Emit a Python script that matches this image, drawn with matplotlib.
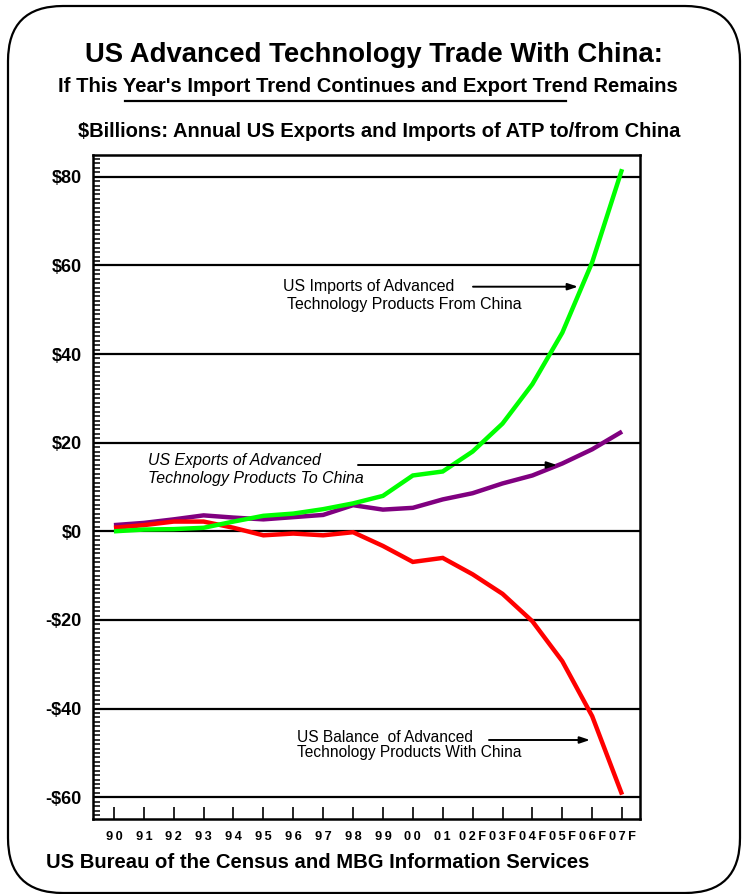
import matplotlib
matplotlib.use("Agg")
import matplotlib.pyplot as plt
from matplotlib.patches import FancyBboxPatch
from matplotlib.lines import Line2D
from matplotlib.text import Annotation
from matplotlib.ticker import FixedLocator, MultipleLocator

plt.rcParams["font.family"] = ["Liberation Sans", "DejaVu Sans"]

# values ($ billions)
years = ["90", "91", "92", "93", "94", "95", "96", "97", "98", "99", "00", "01",
         "02F", "03F", "04F", "05F", "06F", "07F"]
imports = [0.0, 0.4, 0.5, 0.8, 2.2, 3.5, 4.0, 5.0, 6.3, 8.0, 12.6, 13.5,
           18.0, 24.3, 33.2, 44.8, 60.7, 81.7]
exports = [1.4, 1.9, 2.7, 3.6, 3.1, 2.7, 3.2, 3.7, 5.9, 4.9, 5.3, 7.2,
           8.6, 10.8, 12.6, 15.3, 18.5, 22.5]
balance = [0.8, 1.4, 2.2, 2.2, 0.8, -0.9, -0.5, -0.9, -0.2, -3.3, -6.9, -6.0,
           -9.7, -14.1, -20.3, -29.3, -41.7, -59.4]
yticks = [-60, -40, -20, 0, 20, 40, 60, 80]
ytick_labels = ["-$60", "-$40", "-$20", "$0", "$20", "$40", "$60", "$80"]

W, H = 742, 894
fig = plt.figure(figsize=(W / 100, H / 100), dpi=100)


def fx(x):
    return x / W


def fy(y):
    return 1 - y / H


# outer rounded frame
frame = FancyBboxPatch((0.08, 0.01), 7.32, 8.87,
                       boxstyle="round,pad=0,rounding_size=0.55",
                       transform=fig.dpi_scale_trans, facecolor="white",
                       edgecolor="black", linewidth=1.6, zorder=0)
fig.add_artist(frame)

ax = fig.add_axes([fx(93), fy(819), fx(640) - fx(93), fy(155) - fy(819)])
ax.set_facecolor("none")
x = list(range(len(years)))

for y in yticks:
    ax.axhline(y, color="black", linewidth=1.6, zorder=1)

ax.plot(x, exports, color="#800080", linewidth=3.2, solid_capstyle="butt",
        solid_joinstyle="miter", zorder=3)
ax.plot(x, balance, color="#ff0000", linewidth=3.2, solid_capstyle="butt",
        solid_joinstyle="miter", zorder=4)
ax.plot(x, imports, color="#00ff00", linewidth=3.2, solid_capstyle="butt",
        solid_joinstyle="miter", zorder=5)

ax.set_xlim(-0.7, 17.6)
ax.set_ylim(-64.9, 84.9)

for s in ax.spines.values():
    s.set_linewidth(1.8)

ax.yaxis.set_major_locator(FixedLocator(yticks))
ax.yaxis.set_minor_locator(MultipleLocator(1))
ax.set_yticklabels(ytick_labels, fontsize=13, fontweight="bold")
ax.tick_params(axis="y", which="both", direction="in", length=5, width=1.1,
               pad=8, right=False)

ax.set_xticks(x)
ax.set_xticklabels(["\u2009".join(t) for t in years], fontsize=9.2,
                   fontweight="bold")
ax.tick_params(axis="x", direction="in", length=9, width=1.2, pad=8.5,
               top=False)

# titles
fig.text(fx(374), fy(62), "US Advanced Technology Trade With China:",
         ha="center", va="baseline", fontsize=19.8, fontweight="bold")
fig.text(fx(367.5), fy(92),
         "If This Year's Import Trend Continues and Export Trend Remains",
         ha="center", va="baseline", fontsize=14.6, fontweight="bold")
fig.add_artist(Line2D([fx(125), fx(566)], [fy(101), fy(101)],
                      color="black", linewidth=1.6))
fig.text(fx(379), fy(137),
         "$Billions: Annual US Exports and Imports of ATP to/from China",
         ha="center", va="baseline", fontsize=14.5, fontweight="bold")
fig.text(fx(46), fy(868.5),
         "US Bureau of the Census and MBG Information Services",
         ha="left", va="baseline", fontsize=14.6, fontweight="bold")

# annotations
fig.text(fx(283), fy(286), "US Imports of Advanced", ha="left", va="center",
         fontsize=11.4)
fig.text(fx(287), fy(305), "Technology Products From China", ha="left",
         va="center", fontsize=11.4)
fig.text(fx(148), fy(460), "US Exports of Advanced", ha="left", va="center",
         fontsize=11.4, style="italic")
fig.text(fx(148), fy(478), "Technology Products To China", ha="left",
         va="center", fontsize=11.4, style="italic")
fig.text(fx(297), fy(738), "US Balance  of Advanced", ha="left", va="center",
         fontsize=11.2)
fig.text(fx(297), fy(753), "Technology Products With China", ha="left",
         va="center", fontsize=11.2)

arrow = dict(arrowstyle="-|>,head_length=0.6,head_width=0.2",
             color="black", linewidth=1.4, shrinkA=0, shrinkB=0)
for x0, x1, yy in [(473, 578, 286.7), (358, 557, 465), (489, 590, 740)]:
    fig.add_artist(Annotation(
        "", xy=(fx(x1), fy(yy)), xytext=(fx(x0), fy(yy)),
        xycoords="figure fraction", textcoords="figure fraction",
        arrowprops=arrow))

fig.savefig("out.png", dpi=100)
